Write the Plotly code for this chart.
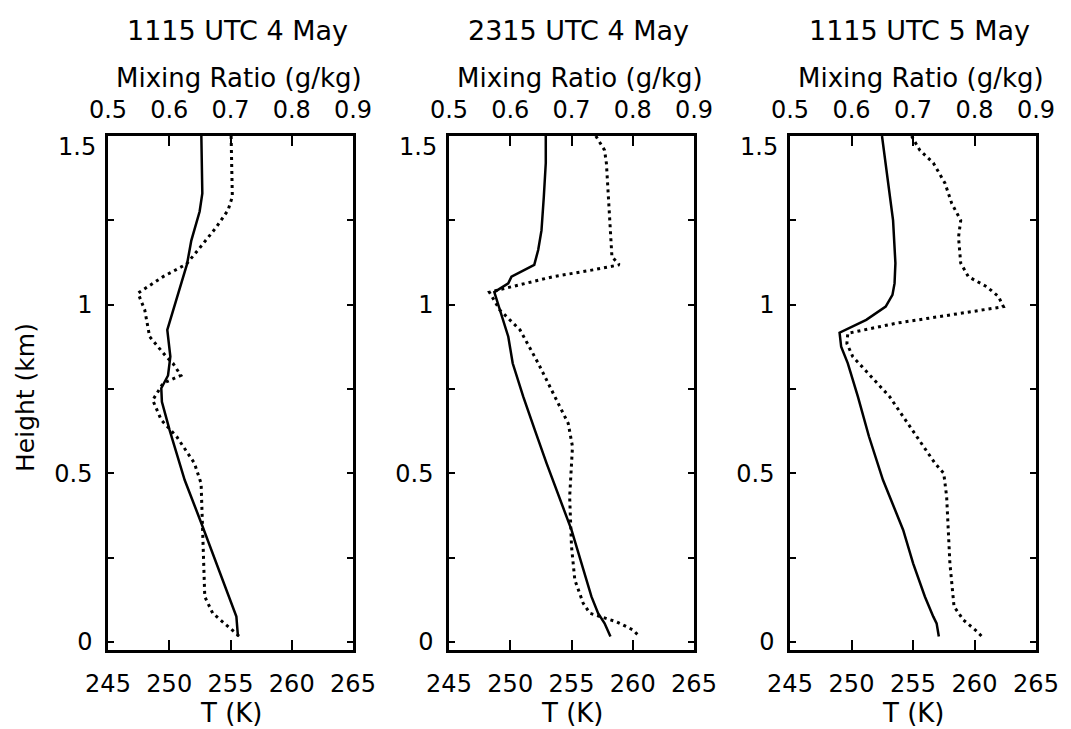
import plotly.graph_objects as go

# ---------------- data ----------------
titles = ["1115 UTC 4 May", "2315 UTC 4 May", "1115 UTC 5 May"]
t_ticks = [245, 250, 255, 260, 265]
q_ticks = [0.5, 0.6, 0.7, 0.8, 0.9]
q_ticklabels = ["0.5", "0.6", "0.7", "0.8", "0.9"]
h_ticks = [0, 0.25, 0.5, 0.75, 1.0, 1.25, 1.5]
h_ticklabels = ["0", "", "0.5", "", "1", "", ""]

# Panel 1 : 1115 UTC 4 May
h1_T = [1.5, 1.33, 1.276, 1.19, 1.12, 1.02, 0.925, 0.846, 0.79, 0.752, 0.712, 0.628, 0.48, 0.352, 0.075, 0.016]
T1 = [252.62, 252.7, 252.48, 251.8, 251.45, 250.63, 249.84, 250.09, 249.9, 249.35, 249.4, 250.03, 251.26, 252.62, 255.48, 255.61]
h1_q = [1.5, 1.32, 1.28, 1.23, 1.18, 1.12, 1.083, 1.034, 0.984, 0.905, 0.846, 0.826, 0.79, 0.767, 0.717, 0.658, 0.609, 0.53, 0.47, 0.332, 0.134, 0.085, 0.045, 0.011]
q1 = [0.701, 0.703, 0.696, 0.677, 0.655, 0.628, 0.59, 0.549, 0.56, 0.568, 0.595, 0.606, 0.619, 0.59, 0.573, 0.587, 0.612, 0.641, 0.652, 0.654, 0.658, 0.671, 0.696, 0.718]

# Panel 2 : 2315 UTC 4 May
h2_T = [1.5, 1.42, 1.32, 1.22, 1.162, 1.118, 1.083, 1.063, 1.037, 0.984, 0.905, 0.826, 0.727, 0.628, 0.53, 0.332, 0.233, 0.134, 0.085, 0.055, 0.016]
T2 = [252.9, 252.9, 252.74, 252.55, 252.28, 251.96, 250.1, 249.84, 248.7, 249.16, 249.84, 250.2, 251.06, 252.01, 252.96, 255.0, 255.8, 256.63, 257.17, 257.7, 258.18]
h2_q = [1.5, 1.458, 1.419, 1.32, 1.221, 1.142, 1.118, 1.103, 1.083, 1.053, 1.037, 0.984, 0.925, 0.826, 0.727, 0.648, 0.579, 0.43, 0.283, 0.184, 0.115, 0.085, 0.06, 0.036, 0.016]
q2 = [0.7397, 0.754, 0.757, 0.76, 0.7636, 0.766, 0.778, 0.735, 0.67, 0.5995, 0.566, 0.583, 0.616, 0.6457, 0.673, 0.6946, 0.7016, 0.697, 0.70, 0.7054, 0.719, 0.73, 0.773, 0.80, 0.811]

# Panel 3 : 1115 UTC 5 May
h3_T = [1.5, 1.37, 1.25, 1.123, 1.063, 1.029, 0.994, 0.955, 0.917, 0.875, 0.826, 0.727, 0.609, 0.48, 0.332, 0.233, 0.134, 0.075, 0.055, 0.016]
T3 = [252.48, 252.97, 253.38, 253.57, 253.5, 253.33, 252.78, 251.2, 249.03, 249.16, 249.7, 250.52, 251.42, 252.56, 254.2, 255.01, 255.97, 256.65, 256.92, 257.1]
h3_q = [1.5, 1.458, 1.42, 1.36, 1.3, 1.25, 1.2, 1.123, 1.083, 1.053, 1.024, 0.994, 0.98, 0.945, 0.915, 0.885, 0.846, 0.727, 0.609, 0.53, 0.5, 0.431, 0.233, 0.105, 0.065, 0.036, 0.016]
q3 = [0.6976, 0.711, 0.733, 0.752, 0.763, 0.7776, 0.774, 0.7776, 0.79, 0.82, 0.839, 0.847, 0.798, 0.673, 0.594, 0.5925, 0.602, 0.662, 0.706, 0.7357, 0.75, 0.7547, 0.76, 0.7667, 0.782, 0.801, 0.812]

panels = [(h1_T, T1, h1_q, q1), (h2_T, T2, h2_q, q2), (h3_T, T3, h3_q, q3)]

# ---------------- layout geometry ----------------
W, H = 1071, 729
x_px = [(108, 353), (449, 694), (790, 1036)]
y_px = (136, 650)
ydom = [1 - y_px[1] / H, 1 - y_px[0] / H]

FONT = "DejaVu Sans"
TICK = 24
LAB = 26
fig = go.Figure()
layout = dict(
    width=W, height=H, margin=dict(l=0, r=0, t=0, b=0, autoexpand=False),
    paper_bgcolor="white", plot_bgcolor="white", showlegend=False,
    font=dict(family=FONT, size=TICK, color="black"),
)
annotations = []

for i, (hT, T, hq, q) in enumerate(panels):
    n = i + 1
    ntop = i + 4
    xb = "x" if n == 1 else f"x{n}"
    xt = f"x{ntop}"
    ya = "y" if n == 1 else f"y{n}"
    dom = [x_px[i][0] / W, x_px[i][1] / W]

    fig.add_trace(go.Scatter(x=T, y=hT, mode="lines", xaxis=xb, yaxis=ya,
                             line=dict(color="black", width=2.5), hoverinfo="skip"))
    fig.add_trace(go.Scatter(x=q, y=hq, mode="lines", xaxis=xt, yaxis=ya,
                             line=dict(color="black", width=3, dash="3px,4px"), hoverinfo="skip"))

    layout["xaxis" if n == 1 else f"xaxis{n}"] = dict(
        domain=dom, anchor=ya, range=[245, 265], tickvals=t_ticks,
        ticktext=[str(v) for v in t_ticks], automargin=False,
        ticks="inside", ticklen=10, tickwidth=2, tickcolor="black",
        showline=True, linewidth=2.5, linecolor="black", mirror="ticks",
        showgrid=False, zeroline=False, ticklabelstandoff=10,
        tickfont=dict(family=FONT, size=TICK),
    )
    layout[f"xaxis{ntop}"] = dict(
        overlaying=xb, anchor=ya, side="top", range=[0.5, 0.9],
        tickvals=q_ticks, ticktext=q_ticklabels, ticks="", automargin=False,
        showline=False, showgrid=False, zeroline=False, ticklabelstandoff=12,
        tickfont=dict(family=FONT, size=TICK),
    )
    layout["yaxis" if n == 1 else f"yaxis{n}"] = dict(
        domain=ydom, anchor=xb, range=[-0.024, 1.5], tickvals=h_ticks,
        ticktext=h_ticklabels, automargin=False,
        ticks="inside", ticklen=6, tickwidth=2, tickcolor="black",
        showline=True, linewidth=2.5, linecolor="black", mirror="ticks",
        showgrid=False, zeroline=False, ticklabelstandoff=8,
        tickfont=dict(family=FONT, size=TICK),
    )

    cx = (x_px[i][0] + x_px[i][1]) / 2
    annotations.append(dict(text=titles[i], x=(cx + 7) / W, y=1 - 30 / H, xref="paper", yref="paper",
                            showarrow=False, xanchor="center", yanchor="middle",
                            font=dict(family=FONT, size=LAB + 1)))
    annotations.append(dict(text="Mixing Ratio (g/kg)", x=(cx + 8) / W, y=1 - 78 / H, xref="paper", yref="paper",
                            showarrow=False, xanchor="center", yanchor="middle",
                            font=dict(family=FONT, size=LAB)))
    annotations.append(dict(text="T (K)", x=cx / W, y=1 - 713 / H, xref="paper", yref="paper",
                            showarrow=False, xanchor="center", yanchor="middle",
                            font=dict(family=FONT, size=LAB)))
    annotations.append(dict(text="1.5", x=(x_px[i][0] - 10) / W, y=1.5, xref="paper", yref=ya,
                            yshift=-11, showarrow=False, xanchor="right", yanchor="middle",
                            font=dict(family=FONT, size=TICK)))

annotations.append(dict(text="Height (km)", x=25 / W, y=1 - 398 / H, xref="paper", yref="paper",
                        showarrow=False, textangle=-90, xanchor="center", yanchor="middle",
                        font=dict(family=FONT, size=LAB - 1)))
layout["annotations"] = annotations
fig.update_layout(**layout)
fig.write_html("out.html")
